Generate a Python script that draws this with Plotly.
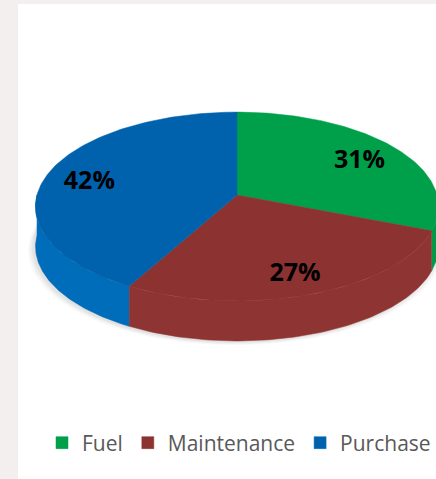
import numpy as np
import plotly.graph_objects as go

# ---- data ----
labels = ["Fuel", "Maintenance", "Purchase"]
values = [31, 27, 42]

# ---- style ----
top_colors = ["#00A04A", "#8C3231", "#0062AD"]
side_colors = ["#009A47", "#8E3432", "#006DBA"]
# perspective-projected disc: hub position, half-width, depth scale, perspective factor, wall height
CX, CY, AX, BY, P, DEPTH = 237, 195, 200, 93, 0.122, 40

def pt(theta_deg, r=1.0, dy=0.0):
    t = np.radians(theta_deg)
    u = r * np.sin(t)
    w = -r * np.cos(t)          # +1 = toward viewer
    d = 1 - P * w
    return CX + AX * u / d, CY + BY * w / d + dy

total = float(sum(values))
bounds = np.concatenate([[0], np.cumsum(values) / total * 360.0])

fig = go.Figure()

# soft shadow under the pie
ts = np.linspace(0, 360, 181)
for k, op in [(8, 0.05), (5, 0.07), (2, 0.09)]:
    sx, sy = pt(ts, dy=DEPTH + 1 + k * 0.4)
    sx = CX + (sx - CX) * (1 + k / 300.0) - 2
    fig.add_trace(go.Scatter(x=sx, y=sy, fill="toself", mode="lines", line=dict(width=0),
                             fillcolor=f"rgba(110,110,110,{op})", showlegend=False, hoverinfo="skip"))

# side walls (front half)
for i in range(len(values)):
    t0, t1 = max(bounds[i], 90), min(bounds[i + 1], 270)
    if t1 <= t0:
        continue
    th = np.linspace(t0, t1, 80)
    x1, y1 = pt(th)
    x2, y2 = pt(th[::-1], dy=DEPTH)
    fig.add_trace(go.Scatter(x=np.concatenate([x1, x2]), y=np.concatenate([y1, y2]),
                             fill="toself", mode="lines", line=dict(width=0.5, color=side_colors[i]),
                             fillcolor=side_colors[i], showlegend=False, hoverinfo="skip"))

# top faces
for i, lab in enumerate(labels):
    th = np.linspace(bounds[i], bounds[i + 1], 120)
    x, y = pt(th)
    fig.add_trace(go.Scatter(x=np.concatenate([[CX], x, [CX]]), y=np.concatenate([[CY], y, [CY]]),
                             fill="toself", mode="lines", line=dict(width=0.5, color=top_colors[i]),
                             fillcolor=top_colors[i], name=lab, legendgroup=lab,
                             showlegend=False, hoverinfo="name"))

# legend entries (square swatches)
for i, lab in enumerate(labels):
    fig.add_trace(go.Scatter(x=[None], y=[None], mode="markers", name=lab, legendgroup=lab,
                             marker=dict(symbol="square", size=12, color=top_colors[i],
                                         line=dict(width=0.5, color=side_colors[i])),
                             showlegend=True))

# percentage labels
lx, ly, lt = [], [], []
for i, v in enumerate(values):
    mid = (bounds[i] + bounds[i + 1]) / 2
    x, y = pt(mid, r=0.78, dy=5)
    lx.append(x); ly.append(y)
    lt.append(f"<b>{round(v / total * 100)}%</b>")
fig.add_trace(go.Scatter(x=lx, y=ly, mode="text", text=lt, showlegend=False, hoverinfo="skip",
                         textfont=dict(family="Open Sans, Liberation Sans, sans-serif", size=25, color="#000000")))

fig.update_layout(
    width=436, height=479,
    margin=dict(l=0, r=0, t=0, b=0),
    paper_bgcolor="#F2EFEE",
    plot_bgcolor="#FFFFFF",
    xaxis=dict(range=[18, 436], domain=[18 / 436, 1], visible=False, fixedrange=True),
    yaxis=dict(range=[479, 4], domain=[0, 475 / 479], visible=False, fixedrange=True),
    showlegend=True,
    legend=dict(orientation="h", x=0.556, xanchor="center", y=1 - 443 / 479, yanchor="middle",
                font=dict(family="Open Sans, Liberation Sans, sans-serif", size=21, color="#595959"),
                itemwidth=30, bgcolor="rgba(0,0,0,0)", traceorder="normal", itemclick=False),
)

fig.write_html("out.html", config={"displayModeBar": False},
               post_script="document.body.style.margin='0';document.body.style.padding='0';")
